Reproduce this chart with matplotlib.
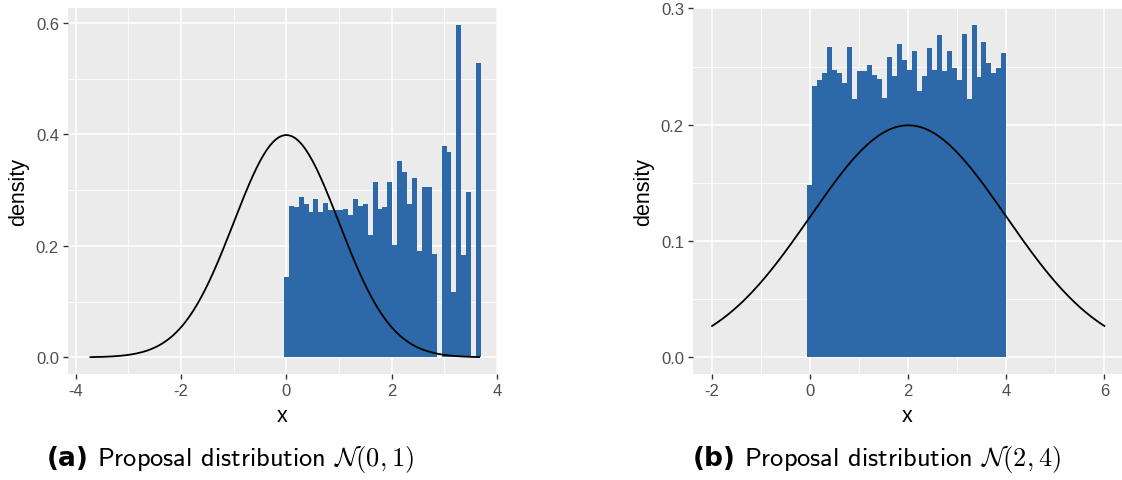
import numpy as np
import matplotlib
matplotlib.use("Agg")
import matplotlib.pyplot as plt

plt.rcParams['axes.unicode_minus'] = False
plt.rcParams['mathtext.fontset'] = 'cm'

# ---------------- data ----------------
# Panel (a): accepted samples histogram (density), proposal N(0,1)
hist_a = [0.144, 0.272, 0.269, 0.287, 0.275, 0.261, 0.285, 0.261, 0.277, 0.264,
          0.264, 0.265, 0.266, 0.256, 0.285, 0.272, 0.275, 0.220, 0.314, 0.267,
          0.269, 0.314, 0.201, 0.353, 0.332, 0.275, 0.322, 0.191, 0.306, 0.306,
          0.185, 0.000, 0.379, 0.368, 0.118, 0.597, 0.183, 0.296, 0.000, 0.529]
mu_a, sd_a = 0.0, 1.0
curve_range_a = (-3.72, 3.66)

# Panel (b): accepted samples histogram (density), proposal N(2,4)
hist_b = [0.148, 0.233, 0.238, 0.244, 0.267, 0.247, 0.244, 0.236, 0.267, 0.222,
          0.246, 0.246, 0.251, 0.243, 0.239, 0.223, 0.258, 0.242, 0.269, 0.256,
          0.247, 0.263, 0.229, 0.242, 0.266, 0.247, 0.277, 0.246, 0.263, 0.249,
          0.238, 0.278, 0.222, 0.286, 0.241, 0.271, 0.253, 0.244, 0.249, 0.262]
mu_b, sd_b = 2.0, 2.0
curve_range_b = (-2.0, 6.0)

captions = [("(a)", r"Proposal distribution $\mathcal{N}(0,1)$"),
            ("(b)", r"Proposal distribution $\mathcal{N}(2,4)$")]

# ---------------- style ----------------
W, H = 1122, 481
BAR = '#2D69A8'
PANEL = '#EBEBEB'
TXT = '#4D4D4D'

fig = plt.figure(figsize=(W / 100, H / 100), dpi=100)


def px_axes(l, r, t, b):
    return fig.add_axes([l / W, (H - b) / H, (r - l) / W, (b - t) / H])


def style(ax, xlim, ylim, xmaj, xmin, ymaj, ymin, yfmt):
    ax.set_facecolor(PANEL)
    for s in ax.spines.values():
        s.set_visible(False)
    ax.set_xlim(*xlim)
    ax.set_ylim(*ylim)
    ax.set_xticks(xmaj)
    ax.set_xticks(xmin, minor=True)
    ax.set_yticks(ymaj)
    ax.set_yticks(ymin, minor=True)
    ax.set_xticklabels([str(v) for v in xmaj])
    ax.set_yticklabels([yfmt.format(v) for v in ymaj])
    ax.grid(True, which='major', color='white', lw=1.1)
    ax.grid(True, which='minor', color='white', lw=0.55)
    ax.set_axisbelow(True)
    ax.tick_params(which='major', length=3.5, width=1.0, color='#333333',
                   labelsize=12, labelcolor=TXT, pad=3)
    ax.tick_params(which='minor', length=0)
    for lab in ax.get_xticklabels() + ax.get_yticklabels():
        lab.set_family('Liberation Sans')
    ax.set_xlabel('x', fontsize=15.5, family='Liberation Sans', labelpad=5)
    ax.set_ylabel('density', fontsize=15.5, family='Liberation Sans', labelpad=5)


def draw(ax, hist, start, width, mu, sd, crange):
    edges = start + width * np.arange(len(hist) + 1)
    ax.bar(edges[:-1], hist, width=width, align='edge', color=BAR,
           edgecolor='none', linewidth=0, zorder=2)
    xs = np.linspace(crange[0], crange[1], 400)
    ys = np.exp(-0.5 * ((xs - mu) / sd) ** 2) / (sd * np.sqrt(2 * np.pi))
    ax.plot(xs, ys, color='black', lw=1.3, zorder=3)


ax_a = px_axes(68, 497, 9, 375)
draw(ax_a, hist_a, -0.047, 0.0936, mu_a, sd_a, curve_range_a)
style(ax_a, (-4.146, 3.99), (-0.0299, 0.627),
      [-4, -2, 0, 2, 4], [-3, -1, 1, 3],
      [0.0, 0.2, 0.4, 0.6], [0.1, 0.3, 0.5], '{:.1f}')

ax_b = px_axes(693, 1122, 9, 375)
draw(ax_b, hist_b, -0.055, 0.1014, mu_b, sd_b, curve_range_b)
style(ax_b, (-2.39, 6.36), (-0.0143, 0.3003),
      [-2, 0, 2, 4, 6], [-1, 1, 3, 5],
      [0.0, 0.1, 0.2, 0.3], [0.05, 0.15, 0.25], '{:.1f}')

# captions
cap_x = [47, 693]
for (bold, rest), x0 in zip(captions, cap_x):
    t1 = fig.text(x0 / W, (H - 466) / H, bold, fontsize=19, fontweight='bold',
                  family='DejaVu Sans', va='baseline', ha='left')
    fig.canvas.draw()
    bb = t1.get_window_extent()
    fig.text((bb.x1 + 8) / W, (H - 466) / H, rest, fontsize=19,
             family='cmss10', va='baseline', ha='left')

fig.savefig('out.png', dpi=100)
